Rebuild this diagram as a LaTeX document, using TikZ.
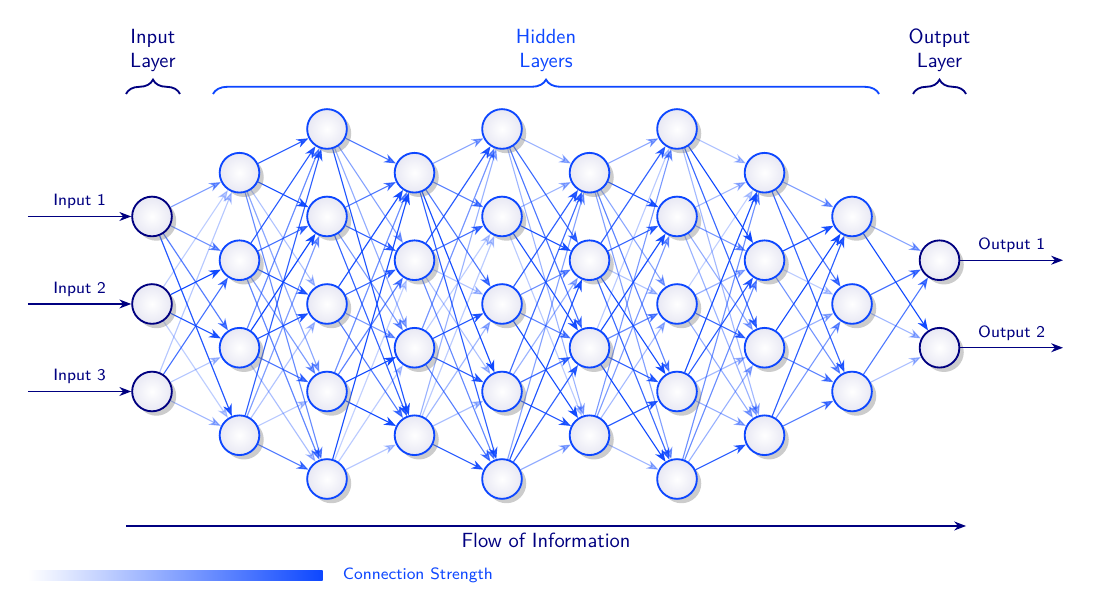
\documentclass[tikz,border=0pt]{standalone}
\usepackage{xcolor}
\usepackage{tikz}
\usetikzlibrary{arrows.meta,shadows,decorations.pathreplacing,backgrounds}
\definecolor{NNBlue}{HTML}{0D47FF}
\definecolor{NNNavy}{HTML}{000080}
\tikzset{
  neuron/.style={circle,draw=NNBlue,line width=0.9pt,minimum size=0.68cm,inner sep=0pt,
    inner color=white,outer color=NNNavy!9,drop shadow={opacity=0.4}},
  ioneuron/.style={neuron,draw=NNNavy},
  link/.style={NNBlue,line width=0.55pt,-{Stealth[length=5.8pt,width=4.4pt]}},
  ioarrow/.style={NNNavy,line width=0.6pt,-{Stealth[length=5.8pt,width=4.4pt]}},
  layerbrace/.style={decorate,decoration={brace,amplitude=7pt},line width=0.9pt},
  iolabel/.style={font=\footnotesize\sffamily,text=NNNavy},
  layerlabel/.style={anchor=south,align=center,font=\sffamily}
}

\begin{document}
\begin{tikzpicture}[x=1.5cm,y=1.5cm]
\path[use as bounding box] (-1.737,-3.543) rectangle (10.754,3.474);
\node[ioneuron] (n0-1) at (0,1) {};
\node[ioneuron] (n0-2) at (0,0) {};
\node[ioneuron] (n0-3) at (0,-1) {};
\foreach \l/\n in {1/4,2/5,3/4,4/5,5/4,6/5,7/4,8/3}
  \foreach \i in {1,...,\n}
    \node[neuron] (n\l-\i) at (\l,{(\n+1)/2-\i}) {};
\node[ioneuron] (n9-1) at (9,0.5) {};
\node[ioneuron] (n9-2) at (9,-0.5) {};

\pgfmathsetseed{12}
\begin{scope}[on background layer]
\foreach \a/\na/\b/\nb in {0/3/1/4,1/4/2/5,2/5/3/4,3/4/4/5,4/5/5/4,5/4/6/5,6/5/7/4,7/4/8/3,8/3/9/2}
  \foreach \i in {1,...,\na}
    \foreach \j in {1,...,\nb}{
      \pgfmathsetmacro\op{0.25+0.75*rnd}
      \draw[link,opacity=\op] (n\a-\i) -- (n\b-\j);
    }
\end{scope}

\foreach \i in {1,2,3}{
  \coordinate (in\i) at (-1.417,2-\i);
  \draw[ioarrow] (in\i) -- node[above,iolabel] {Input \i} (n0-\i);
}
\foreach \i in {1,2}{
  \coordinate (out\i) at (10.411,1.5-\i);
  \draw[ioarrow] (n9-\i) -- node[above,iolabel] {Output \i} (out\i);
}

\coordinate (inL) at (-0.297,2.40);
\coordinate (inR) at (0.32,2.40);
\coordinate (hidL) at (0.697,2.40);
\coordinate (hidR) at (8.309,2.40);
\coordinate (outL) at (8.697,2.40);
\coordinate (outR) at (9.303,2.40);
\draw[layerbrace,NNNavy] (inL) -- (inR);
\draw[layerbrace,NNBlue] (hidL) -- (hidR);
\draw[layerbrace,NNNavy] (outL) -- (outR);
\node[layerlabel,text=NNNavy] (inlab) at (0.01,2.57) {Input\\Layer};
\node[layerlabel,text=NNBlue] (hidlab) at (4.503,2.57) {Hidden\\Layers};
\node[layerlabel,text=NNNavy] (outlab) at (9.0,2.57) {Output\\Layer};

\coordinate (flowA) at (-0.297,-2.537);
\coordinate (flowB) at (9.303,-2.537);
\draw[ioarrow] (flowA) -- node[below,font=\sffamily,text=NNNavy] {Flow of Information} (flowB);

\shade[left color=white,right color=NNBlue] (-1.417,-3.162) rectangle (1.951,-3.04);
\node[anchor=west,font=\footnotesize\sffamily,text=NNBlue] (strength) at (2.10,-3.101) {Connection Strength};
\end{tikzpicture}
\end{document}
